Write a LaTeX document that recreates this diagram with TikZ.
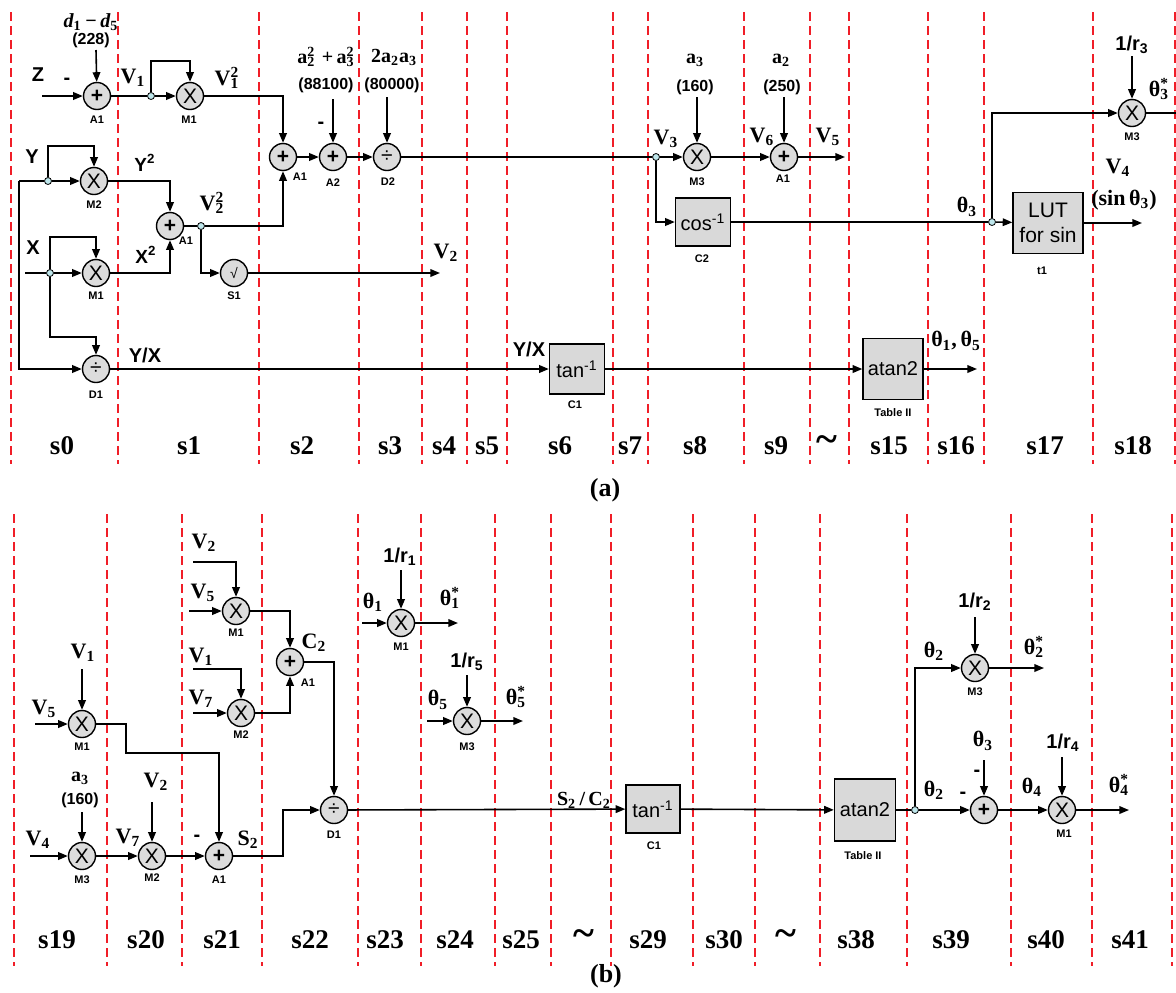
\documentclass[tikz,border=0pt]{standalone}
\usepackage{fontspec}
\setmainfont{Liberation Serif}
\setsansfont{Liberation Sans}
\usetikzlibrary{arrows.meta,calc}
\definecolor{opgray}{RGB}{220,220,220}
\definecolor{blkgray}{RGB}{217,217,217}
\definecolor{tapcyan}{RGB}{190,230,235}
\definecolor{stagered}{RGB}{240,30,40}
\newcommand{\sbs}[2]{#1\textsubscript{#2}}
\newcommand{\sbsp}[3]{#1\rlap{\textsuperscript{#3}}\textsubscript{#2}}
\tikzset{
    op/.style={circle, draw, line width=0.7pt, fill=opgray, minimum size=13.5pt,
               inner sep=0pt, font=\sffamily\fontsize{10.5}{10.5}\selectfont},
    blk/.style={draw, line width=0.7pt, fill=blkgray, inner sep=0pt, align=center,
                font=\sffamily\fontsize{10}{12.5}\selectfont},
    tap/.style={circle, draw, line width=0.4pt, fill=tapcyan, minimum size=3.5pt, inner sep=0pt},
    utag/.style={font=\sffamily\bfseries\fontsize{5.5}{6}\selectfont, inner sep=0.5pt},
    sig/.style={font=\rmfamily\bfseries\fontsize{11}{11}\selectfont, inner sep=0.5pt},
    ssig/.style={font=\sffamily\bfseries\fontsize{10}{10}\selectfont, inner sep=0.5pt},
    cval/.style={font=\sffamily\bfseries\fontsize{8}{8}\selectfont, inner sep=0.5pt},
    csym/.style={font=\rmfamily\bfseries\fontsize{10}{10}\selectfont, inner sep=0.5pt},
    stage/.style={font=\rmfamily\bfseries\fontsize{13.5}{14}\selectfont, inner sep=0pt},
    arr/.style={-{Triangle[length=4.8pt,width=3.8pt]}, line width=0.8pt},
    wire/.style={line width=0.8pt},
    sep/.style={draw=stagered, line width=1.25pt, dash pattern=on 4.5pt off 2.5pt},
}
\begin{document}
\begin{tikzpicture}[x=0.5pt, y=-0.5pt]
    \useasboundingbox (0,0) rectangle (1176,992);
    % stage separators
    \foreach \x in {11,118,259,359,422,467,507,613,648,744,810,849,928,984,1093,1175}
        \draw[sep] (\x,12) -- (\x,464);
    \foreach \x in {14,107,182,262,358,421,495,551,611,693,755,820,907,1011,1092,1172}
        \draw[sep] (\x,514) -- (\x,966);
    \foreach \x/\s in {62/s0,189/s1,302/s2,390/s3,444/s4,487/s5,560/s6,630/s7,695/s8,
                       776/s9,889/s15,956/s16,1045/s17,1133/s18}
        \node[stage] (st\s) at (\x,446) {\s};
    \node[stage, font=\rmfamily\bfseries\fontsize{20}{20}\selectfont] (tilA) at (827,444) {\textasciitilde};
    \foreach \x/\s in {57/s19,146/s20,222/s21,310/s22,385/s23,455/s24,521/s25,648/s29,
                       724/s30,856/s38,951/s39,1046/s40,1130/s41}
        \node[stage] (st\s) at (\x,940) {\s};
    \node[stage, font=\rmfamily\bfseries\fontsize{20}{20}\selectfont] (tilB) at (584,938) {\textasciitilde};
    \node[stage, font=\rmfamily\bfseries\fontsize{20}{20}\selectfont] (tilC) at (786,938) {\textasciitilde};
    \node[stage, font=\rmfamily\bfseries\fontsize{13}{13}\selectfont] (capa) at (605,490) {(a)};
    \node[stage, font=\rmfamily\bfseries\fontsize{13}{13}\selectfont] (capb) at (606,976) {(b)};

    % ---------------- (a) ----------------
    \node[op] (aA1) at (97,96) {\textbf{+}};
    \node[utag] (taA1) at (97,120) {A1};
    \node[csym, font=\rmfamily\bfseries\itshape\fontsize{10}{10}\selectfont] (lad) at (91,22)
        {\sbs{d}{\upshape 1}\,−\,\sbs{d}{\upshape 5}};
    \node[cval] (ladv) at (91,40) {(228)};
    \coordinate (adin) at (96,50);
    \draw[arr] (adin) -- (aA1);
    \node[ssig] (laZ) at (38,75) {Z};
    \node[ssig] (laZm) at (67,81) {-};
    \coordinate (azin) at (42,96);
    \draw[arr] (azin) -- (aA1);
    \node[tap] (av1) at (151,96) {};
    \node[op] (aM1) at (190,96) {X};
    \draw[wire] (aA1) -- (av1);
    \draw[arr] (av1) -- (aM1);
    \draw[arr] (av1) -- ++(0,-35) -| (aM1);
    \node[sig] (lav1) at (133,78) {\sbs{V}{1}};
    \node[utag] (taM1) at (189,120) {M1};
    \node[sig] (lav1q) at (227,78) {\sbsp{V}{1}{2}};
    \node[op] (aA1b) at (283,157) {\textbf{+}};
    \node[utag] (taA1b) at (300,177) {A1};
    \draw[arr] (aM1) -| (aA1b);

    % Y and X inputs
    \coordinate (ayin) at (19,181);
    \node[tap] (ayt) at (48,181) {};
    \node[op] (aM2) at (94,181) {X};
    \draw[wire] (ayin) -- (ayt);
    \draw[arr] (ayt) -- (aM2);
    \draw[arr] (ayt) -- ++(0,-35) -| (aM2);
    \node[ssig] (laY) at (32,157) {Y};
    \node[utag] (taM2) at (94,205) {M2};
    \node[op] (aA1c) at (170,226) {\textbf{+}};
    \node[utag] (taA1c) at (186,241) {A1};
    \draw[arr] (aM2) -| (aA1c);
    \node[ssig, font=\sffamily\bfseries\fontsize{9.5}{10}\selectfont] (laY2) at (145,163) {Y\textsuperscript{2}};
    \node[sig] (lav2q) at (212,203) {\sbsp{V}{2}{2}};
    \node[tap] (av2) at (201,226) {};
    \draw[wire] (aA1c) -- (av2);
    \draw[arr] (av2) -| (aA1b);
    \node[op, font=\sffamily\fontsize{7}{7}\selectfont] (aS1) at (234,273) {√};
    \draw[arr] (av2) |- (aS1);
    \node[utag] (taS1) at (234,296) {S1};
    \coordinate (av2out) at (440,273);
    \draw[arr] (aS1) -- (av2out);
    \node[sig] (lav2) at (446,253) {\sbs{V}{2}};

    \coordinate (axin) at (25,273);
    \node[tap] (axt) at (50,273) {};
    \node[op] (aM1x) at (96,273) {X};
    \draw[wire] (axin) -- (axt);
    \draw[arr] (axt) -- (aM1x);
    \draw[arr] (axt) -- ++(0,-36) -| (aM1x);
    \node[ssig] (laX) at (33,248) {X};
    \node[utag] (taM1x) at (96,296) {M1};
    \node[ssig, font=\sffamily\bfseries\fontsize{9.5}{10}\selectfont] (laX2) at (146,255) {X\textsuperscript{2}};
    \draw[arr] (aM1x) -| (aA1c);
    \node[op] (aD1) at (96,369) {÷};
    \draw[arr] (axt) -- ++(0,64) -| (aD1);
    \draw[arr] (ayin) |- (aD1);
    \node[utag] (taD1) at (96,395) {D1};
    \node[ssig] (layx) at (145,355) {Y/X};

    \node[blk, minimum width=27.5pt, minimum height=25pt] (aC1) at (577,369) {tan\textsuperscript{-1}};
    \draw[arr] (aD1) -- (aC1);
    \node[ssig] (layx2) at (529,349) {Y/X};
    \node[utag] (taC1) at (575,405) {C1};
    \node[blk, minimum width=30pt, minimum height=30.5pt] (aT2) at (893,369) {atan2};
    \draw[arr] (aC1) -- (aT2);
    \node[utag] (taT2) at (893,413) {Table II};
    \coordinate (athout) at (977,369);
    \draw[arr] (aT2) -- (athout);
    \node[sig] (lath15) at (956,341) {\sbs{θ}{1}{,}\,\sbs{θ}{5}};

    % constants, A2, D2
    \node[op] (aA2) at (333,157) {\textbf{+}};
    \node[utag] (taA2) at (333,183) {A2};
    \node[op] (aD2) at (387,157) {÷};
    \node[utag] (taD2) at (388,182) {D2};
    \draw[arr] (aA1b) -- (aA2);
    \draw[arr] (aA2) -- (aD2);
    \node[csym] (lak1) at (326,57) {\sbsp{a}{2}{2}\,\,+\,\sbsp{a}{3}{2}};
    \node[cval] (lak1v) at (326,85) {(88100)};
    \node[ssig] (lak1m) at (321,125) {-};
    \coordinate (ak1in) at (333,99);
    \draw[arr] (ak1in) -- (aA2);
    \node[csym] (lak2) at (394,57) {2\sbs{a}{2}\sbs{a}{3}};
    \node[cval] (lak2v) at (392,85) {(80000)};
    \coordinate (ak2in) at (387,97);
    \draw[arr] (ak2in) -- (aD2);

    \node[tap] (av3) at (656,157) {};
    \draw[wire] (aD2) -- (av3);
    \node[op] (aM3) at (697,157) {X};
    \draw[arr] (av3) -- (aM3);
    \node[sig] (lav3) at (666,139) {\sbs{V}{3}};
    \node[csym] (laa3) at (695,60) {\sbs{a}{3}};
    \node[cval] (laa3v) at (695,87) {(160)};
    \coordinate (aa3in) at (697,97);
    \draw[arr] (aa3in) -- (aM3);
    \node[utag] (taM3) at (697,182) {M3};
    \node[op] (aA1d) at (784,157) {\textbf{+}};
    \draw[arr] (aM3) -- (aA1d);
    \node[sig] (lav6) at (762,137) {\sbs{V}{6}};
    \node[csym] (laa2) at (781,60) {\sbs{a}{2}};
    \node[cval] (laa2v) at (782,87) {(250)};
    \coordinate (aa2in) at (784,97);
    \draw[arr] (aa2in) -- (aA1d);
    \node[utag] (taA1d) at (783,179) {A1};
    \coordinate (av5out) at (845,157);
    \draw[arr] (aA1d) -- (av5out);
    \node[sig] (lav5) at (828,137) {\sbs{V}{5}};

    \node[blk, minimum width=27.5pt, minimum height=24pt] (aC2) at (703,222) {cos\textsuperscript{-1}};
    \draw[arr] (av3) |- (aC2);
    \node[utag] (taC2) at (702,259) {C2};
    \node[tap] (ath3) at (992,222) {};
    \draw[wire] (aC2) -- (ath3);
    \node[sig] (lath3) at (967,207) {\sbs{θ}{3}};
    \node[blk, minimum width=35pt, minimum height=30.5pt,
          font=\sffamily\fontsize{10.5}{12.5}\selectfont] (aLUT) at (1048,223) {LUT\\for sin};
    \draw[arr] (ath3) -- (aLUT);
    \node[utag] (taLUT) at (1042,271) {t1};
    \coordinate (av4out) at (1142,223);
    \draw[arr] (aLUT) -- (av4out);
    \node[sig] (lav4) at (1118,168) {\sbs{V}{4}};
    \node[sig] (lasin) at (1124,200) {(sin\,\sbs{θ}{3})};
    \node[op] (aM3b) at (1132,113) {X};
    \draw[arr] (ath3) |- (aM3b);
    \node[ssig] (lar3) at (1132,45) {1/\sbs{r}{3}};
    \coordinate (ar3in) at (1132,56);
    \draw[arr] (ar3in) -- (aM3b);
    \node[sig] (lath3s) at (1159,89) {\sbsp{θ}{3}{*}};
    \node[utag] (taM3b) at (1132,137) {M3};
    \coordinate (ath3out) at (1176,113);
    \draw[wire] (aM3b) -- (ath3out);

    % ---------------- (b) ----------------
    \node[op] (bM1) at (82,724) {X};
    \node[sig] (lbv1) at (83,653) {\sbs{V}{1}};
    \coordinate (bv1in) at (82,669);
    \draw[arr] (bv1in) -- (bM1);
    \node[sig] (lbv5) at (44,709) {\sbs{V}{5}};
    \coordinate (bv5in) at (35,724);
    \draw[arr] (bv5in) -- (bM1);
    \node[utag] (tbM1) at (82,747) {M1};

    \node[op] (bM3) at (82,856) {X};
    \node[csym] (lba3) at (80,778) {\sbs{a}{3}};
    \node[cval] (lba3v) at (80,800) {(160)};
    \coordinate (ba3in) at (82,812);
    \draw[arr] (ba3in) -- (bM3);
    \node[sig] (lbv4) at (38,840) {\sbs{V}{4}};
    \coordinate (bv4in) at (30,856);
    \draw[arr] (bv4in) -- (bM3);
    \node[utag] (tbM3) at (82,880) {M3};
    \node[op] (bM2) at (152,856) {X};
    \draw[arr] (bM3) -- (bM2);
    \node[sig] (lbv7) at (128,838) {\sbs{V}{7}};
    \node[sig] (lbv2) at (156,782) {\sbs{V}{2}};
    \coordinate (bv2in) at (152,802);
    \draw[arr] (bv2in) -- (bM2);
    \node[utag] (tbM2) at (152,878) {M2};
    \node[op] (bA1) at (219,856) {\textbf{+}};
    \draw[arr] (bM2) -- (bA1);
    \node[ssig] (lbm) at (197,838) {-};
    \node[sig] (lbs2) at (248,840) {\sbs{S}{2}};
    \node[utag] (tbA1) at (219,880) {A1};
    \draw[arr] (bM1) -- ++(44,0) |- ($(bA1)+(0,-103)$) -- (bA1);

    \node[op] (bD1) at (334,810) {÷};
    \node[utag] (tbD1) at (334,835) {D1};
    \draw[arr] (bA1) -- ++(64,0) |- (bD1);

    \node[op] (bM1b) at (236,611) {X};
    \node[sig] (lbv2b) at (204,543) {\sbs{V}{2}};
    \coordinate (bv2bin) at (193,562);
    \draw[arr] (bv2bin) -| (bM1b);
    \node[sig] (lbv5b) at (203,593) {\sbs{V}{5}};
    \coordinate (bv5bin) at (189,611);
    \draw[arr] (bv5bin) -- (bM1b);
    \node[utag] (tbM1b) at (236,633) {M1};
    \node[op] (bM2b) at (241,713) {X};
    \node[sig] (lbv1b) at (201,657) {\sbs{V}{1}};
    \coordinate (bv1bin) at (193,669);
    \draw[arr] (bv1bin) -| (bM2b);
    \node[sig] (lbv7b) at (201,699) {\sbs{V}{7}};
    \coordinate (bv7bin) at (193,713);
    \draw[arr] (bv7bin) -- (bM2b);
    \node[utag] (tbM2b) at (241,735) {M2};
    \node[op] (bA1b) at (290,662) {\textbf{+}};
    \node[sig] (lbc2) at (314,643) {\sbs{C}{2}};
    \node[utag] (tbA1b) at (308,683) {A1};
    \draw[arr] (bM1b) -| (bA1b);
    \draw[arr] (bM2b) -| (bA1b);
    \draw[arr] (bA1b) -| (bD1);

    \node[op] (bM1c) at (401,623) {X};
    \node[ssig] (lbr1) at (400,557) {1/\sbs{r}{1}};
    \coordinate (br1in) at (401,570);
    \draw[arr] (br1in) -- (bM1c);
    \node[sig] (lbth1) at (373,602) {\sbs{θ}{1}};
    \coordinate (bth1in) at (362,623);
    \draw[arr] (bth1in) -- (bM1c);
    \node[sig] (lbth1s) at (450,598) {\sbsp{θ}{1}{*}};
    \coordinate (bth1out) at (458,623);
    \draw[arr] (bM1c) -- (bth1out);
    \node[utag] (tbM1c) at (401,647) {M1};
    \node[op] (bM3c) at (467,721) {X};
    \node[ssig] (lbr5) at (467,662) {1/\sbs{r}{5}};
    \coordinate (br5in) at (467,675);
    \draw[arr] (br5in) -- (bM3c);
    \node[sig] (lbth5) at (438,700) {\sbs{θ}{5}};
    \coordinate (bth5in) at (427,721);
    \draw[arr] (bth5in) -- (bM3c);
    \node[sig] (lbth5s) at (516,697) {\sbsp{θ}{5}{*}};
    \coordinate (bth5out) at (523,721);
    \draw[arr] (bM3c) -- (bth5out);
    \node[utag] (tbM3c) at (467,747) {M3};

    \node[blk, minimum width=27pt, minimum height=24pt] (bC1) at (653,809) {tan\textsuperscript{-1}};
    \draw[arr] (bD1) -- (bC1);
    \node[sig, font=\rmfamily\bfseries\fontsize{10}{10}\selectfont] (lbsc) at (584,800) {\sbs{S}{2}\,/\,\sbs{C}{2}};
    \node[utag] (tbC1) at (654,846) {C1};
    \node[blk, minimum width=30.5pt, minimum height=31pt] (bT2) at (865,810) {atan2};
    \draw[arr] (bC1) -- (bT2);
    \node[utag] (tbT2) at (863,856) {Table II};
    \node[tap] (bth2) at (915,810) {};
    \draw[wire] (bT2) -- (bth2);
    \node[op] (bM3d) at (975,668) {X};
    \draw[arr] (bth2) |- (bM3d);
    \node[sig] (lbth2a) at (934,651) {\sbs{θ}{2}};
    \node[ssig] (lbr2) at (975,602) {1/\sbs{r}{2}};
    \coordinate (br2in) at (975,617);
    \draw[arr] (br2in) -- (bM3d);
    \node[sig] (lbth2s) at (1034,647) {\sbsp{θ}{2}{*}};
    \coordinate (bth2out) at (1044,668);
    \draw[arr] (bM3d) -- (bth2out);
    \node[utag] (tbM3d) at (975,692) {M3};
    \node[op] (bS) at (984,810) {\textbf{+}};
    \draw[arr] (bth2) -- (bS);
    \node[sig] (lbth2b) at (934,790) {\sbs{θ}{2}};
    \node[ssig] (lbsm1) at (963,795) {-};
    \node[sig] (lbth3) at (983,741) {\sbs{θ}{3}};
    \node[ssig] (lbsm2) at (977,773) {-};
    \coordinate (bth3in) at (984,760);
    \draw[arr] (bth3in) -- (bS);
    \node[op] (bM1d) at (1062,810) {X};
    \draw[arr] (bS) -- (bM1d);
    \node[sig] (lbth4) at (1032,787) {\sbs{θ}{4}};
    \node[ssig] (lbr4) at (1063,743) {1/\sbs{r}{4}};
    \coordinate (br4in) at (1062,757);
    \draw[arr] (br4in) -- (bM1d);
    \node[sig] (lbth4s) at (1119,785) {\sbsp{θ}{4}{*}};
    \coordinate (bth4out) at (1129,810);
    \draw[arr] (bM1d) -- (bth4out);
    \node[utag] (tbM1d) at (1064,834) {M1};
\end{tikzpicture}
\end{document}
